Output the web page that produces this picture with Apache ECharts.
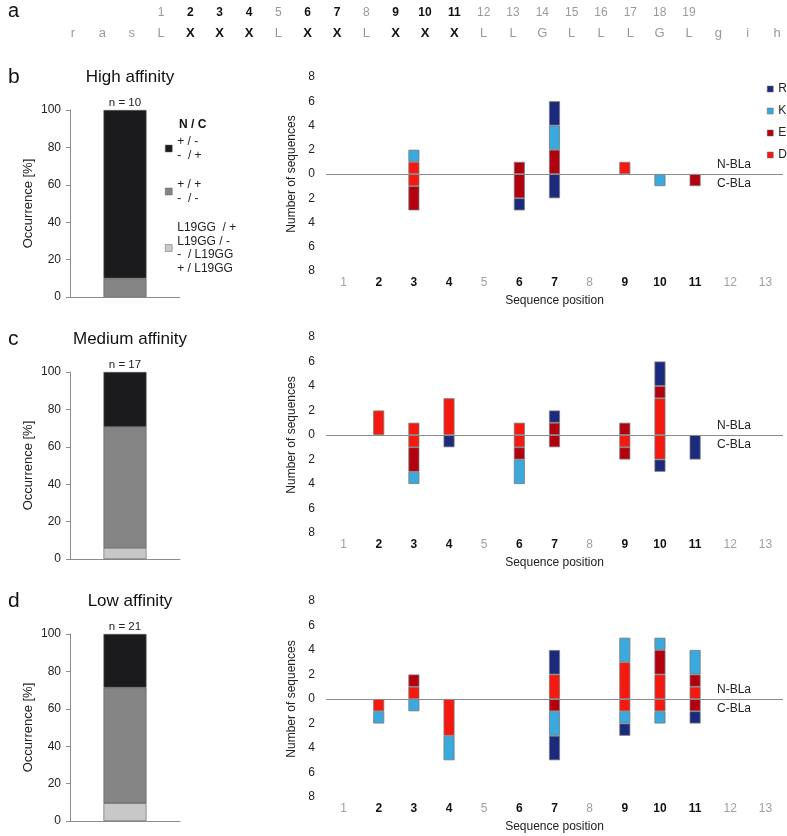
<!DOCTYPE html>
<html><head><meta charset="utf-8">
<script src="https://cdn.jsdelivr.net/npm/echarts@6/dist/echarts.min.js"></script>
<style>html,body{margin:0;padding:0;background:#fff}#c{width:787px;height:836px}</style>
</head><body><div id="c"></div>
<script>
// ---- panel a: sequence ----
const seqLetters = ['r','a','s','L','X','X','X','L','X','X','L','X','X','X','L','L','G','L','L','L','G','L','g','i','h'];
const seqNumbers = ['','','','1','2','3','4','5','6','7','8','9','10','11','12','13','14','15','16','17','18','19','','',''];

// ---- panels b-d ----
const panelLetters = ['b','c','d'];
const panelTitles = ['High affinity','Medium affinity','Low affinity'];
const nCounts = [10, 17, 21];

// left: occurrence [%]
const occNames = ['+ / -\n-  / +', '+ / +\n-  / -', 'L19GG  / +\nL19GG / -\n-  / L19GG\n+ / L19GG'];
const occLight = [0, 5.9, 9.5];
const occGray = [10, 64.7, 61.9];
const occBlack = [90, 29.4, 28.6];

// right: number of sequences per position
const positions = ['1','2','3','4','5','6','7','8','9','10','11','12','13'];
const boldPositions = ['2','3','4','6','7','9','10','11'];
const residues = ['D','E','K','R'];
// N-BLa (above zero)
const highN_D = [0,0,1,0,0,0,0,0,1,0,0,0,0];
const highN_E = [0,0,0,0,0,1,2,0,0,0,0,0,0];
const highN_K = [0,0,1,0,0,0,2,0,0,0,0,0,0];
const highN_R = [0,0,0,0,0,0,2,0,0,0,0,0,0];
// C-BLa (below zero)
const highC_D = [0,0,1,0,0,0,0,0,0,0,0,0,0];
const highC_E = [0,0,2,0,0,2,0,0,0,0,1,0,0];
const highC_K = [0,0,0,0,0,0,0,0,0,1,0,0,0];
const highC_R = [0,0,0,0,0,1,2,0,0,0,0,0,0];

const medN_D = [0,2,1,3,0,1,0,0,0,3,0,0,0];
const medN_E = [0,0,0,0,0,0,1,0,1,1,0,0,0];
const medN_K = [0,0,0,0,0,0,0,0,0,0,0,0,0];
const medN_R = [0,0,0,0,0,0,1,0,0,2,0,0,0];
const medC_D = [0,0,1,0,0,1,0,0,1,2,0,0,0];
const medC_E = [0,0,2,0,0,1,1,0,1,0,0,0,0];
const medC_K = [0,0,1,0,0,2,0,0,0,0,0,0,0];
const medC_R = [0,0,0,1,0,0,0,0,0,1,2,0,0];

const lowN_D = [0,0,1,0,0,0,2,0,3,2,1,0,0];
const lowN_E = [0,0,1,0,0,0,0,0,0,2,1,0,0];
const lowN_K = [0,0,0,0,0,0,0,0,2,1,2,0,0];
const lowN_R = [0,0,0,0,0,0,2,0,0,0,0,0,0];
const lowC_D = [0,1,0,3,0,0,0,0,1,1,0,0,0];
const lowC_E = [0,0,0,0,0,0,1,0,0,0,1,0,0];
const lowC_K = [0,1,1,2,0,0,2,0,1,1,0,0,0];
const lowC_R = [0,0,0,0,0,0,2,0,1,0,1,0,0];

const panelN = [
  {D: highN_D, E: highN_E, K: highN_K, R: highN_R},
  {D: medN_D, E: medN_E, K: medN_K, R: medN_R},
  {D: lowN_D, E: lowN_E, K: lowN_K, R: lowN_R}
];
const panelC = [
  {D: highC_D, E: highC_E, K: highC_K, R: highC_R},
  {D: medC_D, E: medC_E, K: medC_K, R: medC_R},
  {D: lowC_D, E: lowC_E, K: lowC_K, R: lowC_R}
];

const resColors = {R: '#1b2a7c', K: '#39a9de', E: '#b3000f', D: '#f5190f'};
const occColors = ['#1b1b1e', '#848484', '#c8c8c8'];

const FONT = 'Liberation Sans, Arial, sans-serif';
const NARROW = 'Liberation Sans Narrow, Arial Narrow, Liberation Sans, sans-serif';

const leftTops = [110, 372, 634];
const rightTops = [77, 337, 601];
const rightH = [194, 196, 196];

const grids = [], xAxes = [], yAxes = [], series = [], titles = [];

// panel a
grids.push({left: 73, right: 10, top: 21, height: 4});
const isX = i => seqLetters[i] === 'X';
xAxes.push({type: 'category', gridIndex: 0, position: 'top', boundaryGap: false, data: seqNumbers,
  axisLine: {show: false}, axisTick: {show: false},
  axisLabel: {interval: 0, margin: 2, fontFamily: NARROW,
    formatter: (v, i) => v === '' ? '' : (isX(i) ? '{b|' + v + '}' : '{g|' + v + '}'),
    rich: {b: {fontWeight: 'bold', color: '#111', fontSize: 12, fontFamily: NARROW}, g: {color: '#9a9a9a', fontSize: 12, fontFamily: NARROW}}}});
xAxes.push({type: 'category', gridIndex: 0, position: 'bottom', boundaryGap: false, data: seqLetters,
  axisLine: {show: false}, axisTick: {show: false},
  axisLabel: {interval: 0, margin: 2, fontFamily: NARROW,
    formatter: (v, i) => isX(i) ? '{b|' + v + '}' : '{g|' + v + '}',
    rich: {b: {fontWeight: 'bold', color: '#111', fontSize: 13, fontFamily: NARROW}, g: {color: '#9a9a9a', fontSize: 13, fontFamily: NARROW}}}});
yAxes.push({type: 'value', gridIndex: 0, show: false});
titles.push({text: 'a', left: 3, top: -4, textStyle: {fontSize: 20, fontWeight: 'normal', color: '#111', fontFamily: FONT}});

for (let p = 0; p < 3; p++) {
  // left grid
  const lg = grids.length;
  grids.push({left: 70, width: 110, top: leftTops[p], height: 187});
  const lx = xAxes.length;
  xAxes.push({type: 'category', gridIndex: lg, data: [''], axisTick: {show: false}, axisLabel: {show: false},
    axisLine: {lineStyle: {color: '#8c8c8c'}}});
  const ly = yAxes.length;
  yAxes.push({type: 'value', gridIndex: lg, min: 0, max: 100, interval: 20,
    name: 'Occurrence [%]', nameLocation: 'middle', nameGap: 35,
    nameTextStyle: {fontSize: 13, color: '#222', fontFamily: FONT},
    axisLine: {show: true, lineStyle: {color: '#8c8c8c'}},
    axisTick: {show: true, length: 4, lineStyle: {color: '#8c8c8c'}},
    splitLine: {show: false},
    axisLabel: {fontSize: 12, color: '#222', margin: 9, fontFamily: FONT}});
  const occVals = [occLight[p], occGray[p], occBlack[p]];
  for (let k = 0; k < 3; k++) {
    const s = {type: 'bar', name: occNames[[2,1,0][k]] , xAxisIndex: lx, yAxisIndex: ly, stack: 'occ' + p,
      barWidth: 43, data: [occVals[k] || null],
      itemStyle: {color: occColors[[2,1,0][k]], borderColor: '#5a5a5a', borderWidth: 0.6}};
    if (k === 2) s.label = {show: true, position: 'top', distance: 1, formatter: () => 'n = ' + nCounts[p],
      fontSize: 11.5, color: '#222', fontFamily: FONT};
    series.push(s);
  }
  titles.push({text: panelLetters[p], left: 3, top: leftTops[p] - 48, textStyle: {fontSize: 21, fontWeight: 'normal', color: '#111', fontFamily: FONT}});
  titles.push({text: panelTitles[p], left: 125, textAlign: 'center', top: leftTops[p] - 46,
    textStyle: {fontSize: 17, fontWeight: 'normal', color: '#111', fontFamily: FONT}});

  // right grid
  const rg = grids.length;
  grids.push({left: 326, width: 457, top: rightTops[p], height: rightH[p]});
  const rx = xAxes.length;
  xAxes.push({type: 'category', gridIndex: rg, data: positions,
    name: 'Sequence position', nameLocation: 'middle', nameGap: 24,
    nameTextStyle: {fontSize: 12, color: '#222', fontFamily: FONT},
    axisLine: {show: false, onZero: false}, axisTick: {show: false},
    axisLabel: {interval: 0, margin: 6,
      formatter: v => boldPositions.includes(v) ? '{b|' + v + '}' : '{g|' + v + '}',
      rich: {b: {fontWeight: 'bold', color: '#111', fontSize: 12, fontFamily: FONT}, g: {color: '#a0a0a0', fontSize: 12, fontFamily: FONT}}}});
  const ry = yAxes.length;
  yAxes.push({type: 'value', gridIndex: rg, min: -8, max: 8, interval: 2,
    name: 'Number of sequences', nameLocation: 'middle', nameGap: 24,
    nameTextStyle: {fontSize: 12, color: '#222', fontFamily: FONT},
    axisLine: {show: false}, axisTick: {show: false}, splitLine: {show: false},
    axisLabel: {fontSize: 12, color: '#222', margin: 11, fontFamily: FONT, formatter: v => String(Math.abs(v))}});
  let first = true;
  ['N', 'C'].forEach(side => {
    residues.forEach(r => {
      const src = side === 'N' ? panelN[p][r] : panelC[p][r];
      const s = {type: 'bar', name: r, xAxisIndex: rx, yAxisIndex: ry, stack: 'res' + p, stackStrategy: 'samesign',
        barWidth: 11, data: src.map(v => v === 0 ? null : (side === 'N' ? v : -v)),
        itemStyle: {color: resColors[r], borderColor: '#7a7a7a', borderWidth: 0.8}};
      if (first) {
        s.markLine = {silent: true, symbol: 'none', animation: false,
          lineStyle: {color: '#8a8a8a', width: 1, type: 'solid'},
          data: [
            {yAxis: 0, label: {show: true, position: 'insideEndTop', formatter: 'N-BLa', distance: [32, 3], fontSize: 12, color: '#222', fontFamily: FONT}},
            {yAxis: 0, label: {show: true, position: 'insideEndBottom', formatter: 'C-BLa', distance: [32, 4], fontSize: 12, color: '#222', fontFamily: FONT}}
          ]};
        first = false;
      }
      series.push(s);
    });
  });
}

titles.push({text: 'N / C', left: 174, top: 114, textStyle: {fontSize: 12, fontWeight: 'bold', color: '#111', fontFamily: FONT}});

const option = {
  animation: false,
  textStyle: {fontFamily: FONT},
  title: titles,
  grid: grids,
  xAxis: xAxes,
  yAxis: yAxes,
  legend: [
    {data: [occNames[0], occNames[1], occNames[2]], orient: 'vertical', left: 165, top: 135, padding: 0,
      itemWidth: 7, itemHeight: 7, itemGap: 16, selectedMode: false, icon: 'rect',
      itemStyle: {borderWidth: 0.5, borderColor: '#666'},
      textStyle: {fontSize: 12, lineHeight: 13.5, color: '#222', fontFamily: FONT}},
    {data: ['R', 'K', 'E', 'D'], orient: 'vertical', left: 767, top: 83, padding: 0,
      itemWidth: 6, itemHeight: 6, itemGap: 10, selectedMode: false, icon: 'rect',
      itemStyle: {borderWidth: 0.5, borderColor: '#666'},
      textStyle: {fontSize: 12, lineHeight: 12, color: '#222', fontFamily: FONT}}
  ],
  series: series
};
const chart = echarts.init(document.getElementById('c'), null, {renderer: 'canvas'});
chart.setOption(option);
</script></body></html>
